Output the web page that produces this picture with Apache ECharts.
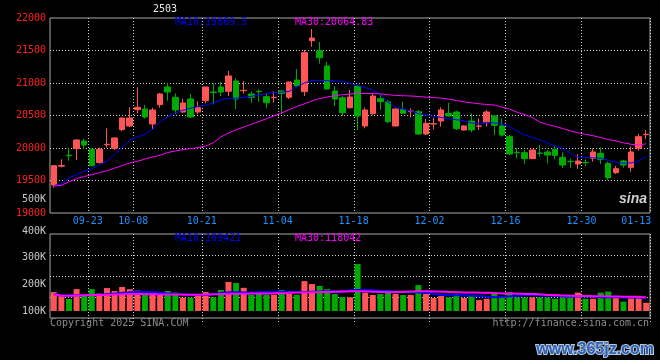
<!DOCTYPE html>
<html><head><meta charset="utf-8">
<script src="https://cdn.jsdelivr.net/npm/echarts/dist/echarts.min.js"></script>
<style>html,body{margin:0;padding:0;background:#000;}#c{width:660px;height:360px;}</style>
</head><body><div id="c"></div>
<script>
// ---------------- data ----------------
const dates = ['09-12','09-13','09-18','09-19','09-20','09-23','09-24','09-25','09-26','09-27',
'09-30','10-08','10-09','10-10','10-11','10-14','10-15','10-16','10-17','10-18',
'10-21','10-22','10-23','10-24','10-25','10-28','10-29','10-30','10-31','11-01',
'11-04','11-05','11-06','11-07','11-08','11-11','11-12','11-13','11-14','11-15',
'11-18','11-19','11-20','11-21','11-22','11-25','11-26','11-27','11-28','11-29',
'12-02','12-03','12-04','12-05','12-06','12-09','12-10','12-11','12-12','12-13',
'12-16','12-17','12-18','12-19','12-20','12-23','12-24','12-25','12-26','12-27',
'12-30','12-31','01-02','01-03','01-06','01-07','01-08','01-09','01-10'];
const tickDates = ['09-23','10-08','10-21','11-04','11-18','12-02','12-16','12-30'];
const endLabel = '01-13';
const contractName = '2503';

const opens = [19431,19720,19890,19990,20108,19980,19774,20050,19995,20282,
20339,20590,20600,20369,20667,20938,20780,20554,20754,20554,
20728,20862,20938,20872,21031,20882,20831,20872,20790,20775,
20877,20780,21046,20867,21651,21497,21262,20877,20774,20620,
20954,20339,20528,20759,20708,20339,20595,20565,20559,20215,
20370,20415,20533,20554,20277,20415,20335,20390,20492,20339,
20174,19933,19928,19836,19923,19939,19980,19856,19795,19754,
19779,19841,19918,19764,19620,19800,19703,19995,20205];
const closes = [19728,19730,19880,20123,20046,19728,19980,20057,20154,20462,
20462,20626,20477,20585,20831,20862,20585,20692,20477,20620,
20938,20852,20862,21108,20754,20887,20780,20867,20697,20780,
20841,21015,20954,21467,21692,21390,20908,20754,20544,20785,
20492,20585,20800,20713,20405,20600,20533,20569,20215,20379,
20374,20585,20492,20297,20339,20277,20339,20554,20349,20200,
19908,19928,19836,19969,19918,19892,19887,19738,19790,19800,
19774,19939,19826,19543,19682,19738,19939,20174,20210];
const lows = [19390,19703,19805,19815,19980,19720,19765,20005,19969,20260,
20318,20533,20451,20287,20620,20728,20523,20540,20467,20518,
20687,20672,20800,20800,20600,20836,20697,20713,20610,20697,
20523,20754,20944,20800,21559,21297,20900,20646,20492,20610,
20277,20303,20508,20585,20380,20330,20523,20472,20200,20200,
20287,20328,20480,20277,20270,20246,20277,20328,20200,20174,
19892,19841,19754,19830,19867,19764,19826,19692,19697,19682,
19723,19790,19754,19507,19600,19697,19636,19959,20138];
const highs = [19735,19826,19995,20138,20138,19990,20005,20303,20164,20470,
20626,20933,20662,20620,20846,21005,20841,20759,20830,20718,
20945,20995,21015,21185,21072,21031,20867,20900,20841,20872,
20890,21020,21215,21508,21831,21631,21323,20954,20800,20892,
20960,20620,20841,20815,20738,20610,20713,20610,20585,20446,
20467,20626,20697,20574,20350,20533,20456,20585,20510,20456,
20200,19995,19969,19980,20046,19969,20031,19933,19836,19903,
19826,19995,20010,19790,19723,19815,20021,20215,20277];
const ma10 = [19420,19450,19540,19590,19640,19680,19740,19800,19900,20010,
20120,20170,20210,20290,20400,20480,20540,20580,20610,20640,
20660,20690,20740,20765,20765,20780,20795,20815,20835,20851,
20860,20870,20940,21000,21040,21040,21036,21033,21028,20990,
20960,20930,20890,20830,20700,20630,20600,20570,20530,20505,
20488,20470,20451,20435,20420,20385,20370,20395,20385,20369,
20330,20260,20200,20165,20125,20080,20030,19990,19920,19860,
19855,19851,19843,19810,19780,19766,19770,19800,19869];
const ma30 = [19415,19425,19480,19530,19560,19590,19620,19650,19690,19730,
19770,19795,19830,19860,19890,19930,19955,19975,19990,20005,
20030,20080,20170,20230,20280,20320,20365,20405,20450,20495,
20540,20590,20640,20680,20725,20760,20785,20805,20820,20830,
20838,20840,20838,20832,20820,20808,20804,20800,20792,20782,
20775,20768,20752,20732,20710,20695,20680,20670,20660,20630,
20600,20550,20515,20470,20400,20360,20335,20300,20265,20235,
20210,20190,20160,20130,20110,20080,20058,20045,20065];
const volumes = [171000,156000,145000,182000,157000,182000,166000,186000,175000,190000,
182000,177000,172000,169000,164000,175000,169000,150000,150000,159000,
171000,152000,179000,209000,205000,187000,161000,164000,161000,161000,
179000,164000,161000,212000,201000,194000,182000,164000,152000,151000,
276000,168000,160000,164000,179000,164000,160000,160000,197000,164000,
149000,156000,151000,164000,149000,156000,141000,146000,171000,156000,
171000,151000,151000,151000,151000,151000,146000,151000,151000,169000,
146000,146000,169000,173000,151000,135000,151000,157000,131000];
const volMa10 = [162000,158000,158000,159000,160000,160000,162000,164000,166000,168000,
170000,172000,171000,170000,168000,166000,164000,162000,161000,160000,
160000,163000,168000,170000,170000,169000,169000,170000,171000,172000,
172000,171000,170000,171000,172000,173000,174000,174000,174000,178000,
179000,179000,177000,175000,174000,172000,171000,170000,169000,168000,
163000,160000,159000,159000,158000,157000,155000,153000,152000,153000,
155000,157000,159000,160000,158000,157000,156000,154000,154000,154000,
154000,153000,152000,152000,152000,150000,151000,150000,149000];
const volMa30 = [160000,157000,157000,158000,159000,160000,160000,161000,162000,163000,
164000,164000,163000,163000,162000,162000,162000,161000,161000,161000,
162000,163000,164000,165000,165000,165000,166000,166000,166000,167000,
167000,168000,169000,169000,170000,171000,171000,172000,173000,174000,
174000,173000,172000,171000,170000,171000,172000,173000,174000,174000,
173000,172000,171000,170000,169000,169000,168000,168000,167000,166000,
166000,165000,164000,164000,162000,160000,159000,158000,157000,156000,
156000,155000,155000,154000,154000,153000,153000,152000,152000];

const priceAxis = {min: 19000, max: 22000, step: 500};
const volAxis = {min: 100000, max: 400000, step: 100000};
const priceLegend = {ma10: '19869.5', ma30: '20064.83'};
const volLegend = {ma10: '109421', ma30: '118042'};
const sideLabel = '500K';
const footLeft = 'Copyright 2025 SINA.COM';
const footRight = 'http://finance.sina.com.cn';
const watermark = 'www.365jz.com';

// ---------------- chart ----------------
const FONT = 'DejaVu Sans Mono';
const UP = '#ff5555', DOWN = '#00aa00';
const DOT = {color: '#d0d0d0', type: [1, 2], width: 1};
const lastIdx = dates.length - 1;
const isTick = (i) => tickDates.indexOf(dates[i]) >= 0;

const candleData = dates.map((d, i) => [opens[i], closes[i], lows[i], highs[i]]);
const volData = dates.map((d, i) => ({
  value: volumes[i],
  itemStyle: {color: closes[i] >= opens[i] ? UP : DOWN}
}));

const GL = 50, GR = 10;
const chart = echarts.init(document.getElementById('c'), null, {renderer: 'canvas'});
chart.setOption({
  backgroundColor: '#000',
  animation: false,
  grid: [
    {left: GL, right: GR, top: 18, height: 195, show: true, borderColor: '#a8a8a8', borderWidth: 1, backgroundColor: 'transparent', outerBoundsMode: 'none'},
    {left: GL, right: GR, top: 234, height: 84, show: true, borderColor: '#a8a8a8', borderWidth: 1, backgroundColor: 'transparent', outerBoundsMode: 'none'},
    {left: GL, right: GR, top: 231, height: 80, show: false, outerBoundsMode: 'none'}
  ],
  xAxis: [
    {gridIndex: 0, type: 'category', data: dates, boundaryGap: true,
     axisLine: {show: false}, axisTick: {show: false},
     splitLine: {show: true, interval: (i) => isTick(i), lineStyle: DOT},
     axisLabel: {show: true, interval: (i) => isTick(i) || i === lastIdx, margin: 3, hideOverlap: false,
       formatter: (v, i) => i === lastIdx ? '{e|' + endLabel + '}' : '{n|' + v + '}',
       rich: {
         n: {color: '#1e90ff', fontFamily: FONT, fontSize: 10, padding: [0, 8, 0, 0]},
         e: {color: '#1e90ff', fontFamily: FONT, fontSize: 10, padding: [0, 20, 0, 0]}
       }}},
    {gridIndex: 1, type: 'category', data: dates, boundaryGap: true,
     axisLine: {show: false},
     axisTick: {show: true, interval: (i) => isTick(i), length: 4, lineStyle: DOT},
     splitLine: {show: true, interval: (i) => isTick(i), lineStyle: DOT},
     axisLabel: {show: false}},
    {gridIndex: 2, type: 'category', data: dates, boundaryGap: true, show: false}
  ],
  yAxis: [
    {gridIndex: 0, type: 'value', min: priceAxis.min, max: priceAxis.max, interval: priceAxis.step,
     axisLine: {show: false}, axisTick: {show: false},
     axisLabel: {color: '#ff2020', fontFamily: FONT, fontSize: 10, margin: 4, padding: [0, 0, 4, 0],
       formatter: (v) => String(v)},
     splitLine: {show: true, showMinLine: false, showMaxLine: false, lineStyle: DOT}},
    {gridIndex: 1, type: 'value', min: 0, max: 4, interval: 1,
     axisLine: {show: false}, axisTick: {show: false}, axisLabel: {show: false},
     splitLine: {show: true, showMinLine: false, showMaxLine: false, lineStyle: DOT}},
    {gridIndex: 2, type: 'value', min: volAxis.min, max: volAxis.max, interval: volAxis.step,
     axisLine: {show: false}, axisTick: {show: false}, splitLine: {show: false},
     axisLabel: {color: '#c8c8c8', fontFamily: FONT, fontSize: 10, margin: 4,
       formatter: (v) => (v / 1000) + 'K'}}
  ],
  series: [
    {name: 'K', type: 'candlestick', xAxisIndex: 0, yAxisIndex: 0, data: candleData, barWidth: 6,
     itemStyle: {color: UP, color0: DOWN, borderColor: UP, borderColor0: DOWN, borderWidth: 1}},
    {name: 'MA10', type: 'line', xAxisIndex: 0, yAxisIndex: 0, data: ma10, symbol: 'none',
     lineStyle: {color: '#0000ff', width: 1}, z: 5},
    {name: 'MA30', type: 'line', xAxisIndex: 0, yAxisIndex: 0, data: ma30, symbol: 'none',
     lineStyle: {color: '#ff00ff', width: 1}, z: 5},
    {name: 'VOL', type: 'bar', xAxisIndex: 2, yAxisIndex: 2, data: volData, barWidth: 6, clip: true},
    {name: 'VMA10', type: 'line', xAxisIndex: 2, yAxisIndex: 2, data: volMa10, symbol: 'none', step: 'middle',
     lineStyle: {color: '#0000ff', width: 2}, z: 5},
    {name: 'VMA30', type: 'line', xAxisIndex: 2, yAxisIndex: 2, data: volMa30, symbol: 'none', step: 'middle',
     lineStyle: {color: '#ff00ff', width: 2}, z: 5}
  ],
  graphic: [
    {type: 'text', left: 153, top: 4, style: {text: contractName, fill: '#e8e8e8', font: '10px "DejaVu Sans Mono"'}},
    {type: 'text', left: 175, top: 17, style: {text: 'MA10:' + priceLegend.ma10, fill: '#0000ff', font: '10px "DejaVu Sans Mono"'}},
    {type: 'text', left: 295, top: 17, style: {text: 'MA30:' + priceLegend.ma30, fill: '#ff00ff', font: '10px "DejaVu Sans Mono"'}},
    {type: 'text', left: 175, top: 233, style: {text: 'MA10:' + volLegend.ma10, fill: '#0000ff', font: '10px "DejaVu Sans Mono"'}},
    {type: 'text', left: 295, top: 233, style: {text: 'MA30:' + volLegend.ma30, fill: '#ff00ff', font: '10px "DejaVu Sans Mono"'}},
    {type: 'text', right: 614, top: 194, style: {text: sideLabel, fill: '#c8c8c8', font: '10px "DejaVu Sans Mono"'}},
    {type: 'text', left: 50, top: 318, style: {text: footLeft, fill: '#8c8c8c', font: '10px "DejaVu Sans Mono"'}},
    {type: 'text', right: 11, top: 318, style: {text: footRight, fill: '#8c8c8c', font: '10px "DejaVu Sans Mono"'}},
    {type: 'text', left: 619, top: 192, style: {text: 'sina', fill: '#d0d0d0', font: 'italic bold 14px "Liberation Sans"'}},
    {type: 'text', right: 5, top: 341, style: {text: watermark, fill: '#2f62b0', stroke: '#b8c8e0', lineWidth: 2, font: 'bold 16px "Liberation Sans"'}}
  ]
});
</script>
</body></html>
